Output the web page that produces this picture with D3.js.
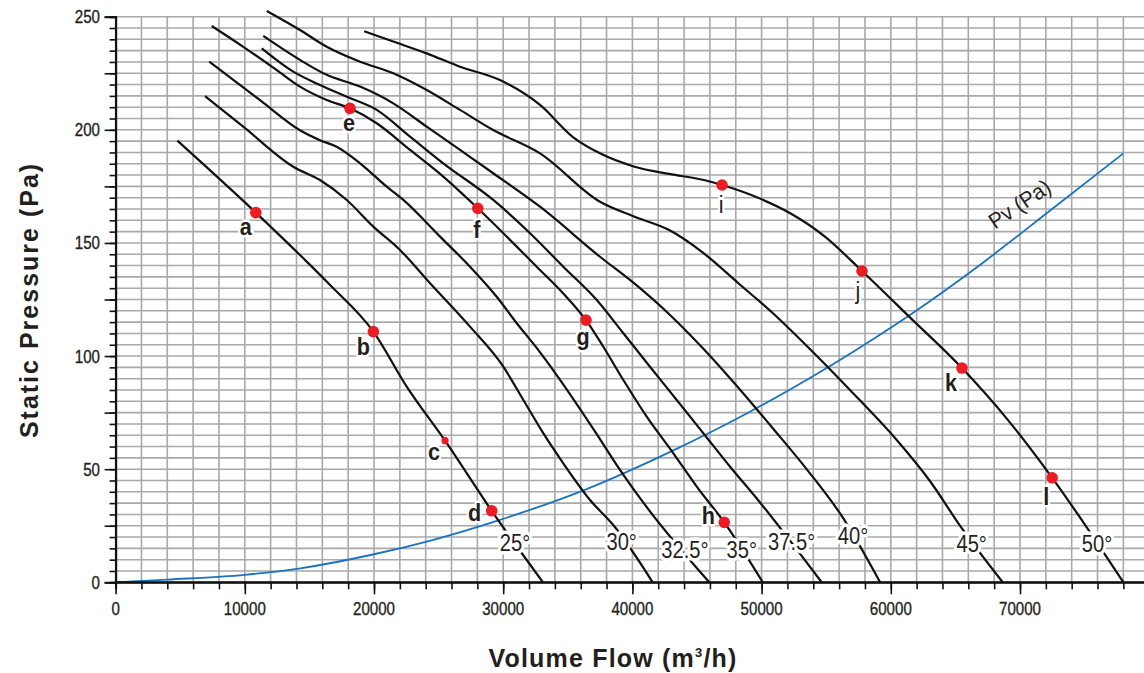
<!DOCTYPE html>
<html><head><meta charset="utf-8">
<script src="https://cdn.jsdelivr.net/npm/d3@7"></script>
<style>
html,body{margin:0;padding:0;background:#fff;}
svg{display:block;font-family:"Liberation Sans",Arial,Helvetica,sans-serif;}
</style></head><body>
<svg id="chart" width="1144" height="673"></svg>
<script>
// ---------------- DATA ----------------
const xTickLabels = [0,10000,20000,30000,40000,50000,60000,70000];
const yTickLabels = [0,50,100,150,200,250];
const curveNames = ["25°","30°","32.5°","35°","37.5°","40°","45°","50°"];

// [volume flow m3/h, static pressure Pa]
const curve25  = [[4780,195.2],[10850,163.4],[14530,143.2],[16600,131.4],[19950,110.8],[22530,86.5],[25500,62.6],[29110,31.6],[33080,0]];
const curve30  = [[6920,214.9],[9880,201.4],[13750,183.7],[15820,177.8],[17890,169],[19950,157.2],[22010,146.9],[24340,132.2],[27430,113],[30010,95.3],[31560,80.6],[33100,65.9],[34650,52.6],[36720,36.4],[38520,25.3],[41570,0]];
const curve325 = [[7250,230.1],[11180,213.1],[14270,199.8],[15820,195.4],[17110,192.5],[18920,185.2],[20980,174.9],[22270,169],[25110,152.8],[27430,139.5],[29500,126.2],[31050,114.5],[32590,103.6],[34140,91.6],[35690,78.8],[37240,65.5],[38790,51.8],[40980,34.2],[45950,0]];
const curve35  = [[7440,245.9],[9880,236.7],[12470,226.4],[14270,219.1],[16340,213.2],[18140,209.5],[20210,202.9],[22790,191.1],[25360,179.3],[28030,165.3],[30010,154.3],[32590,139.5],[34650,127.7],[36410,115.9],[37750,104.1],[39300,89.4],[41110,73.2],[43170,57],[44980,42.3],[47110,26.5],[50090,0]];
const curve375 = [[11310,236],[13750,225.7],[15820,219.8],[17890,214.6],[20210,208.8],[22790,197],[25360,185.2],[29230,169],[32080,154.3],[34650,139.5],[37240,124.8],[39300,110.1],[41360,95.3],[43430,80.6],[45490,65.9],[47560,51.1],[49720,36.4],[54650,0]];
const curve40  = [[11430,241.5],[14270,230.9],[16340,224.3],[18920,219.1],[21490,211.7],[24080,201.4],[26660,191.1],[29230,180.8],[32850,166],[37490,143.9],[40170,132],[42850,118.5],[45530,103],[48200,86],[50880,68],[53560,49.5],[56240,29],[59170,0]];
const curve45  = [[11700,252.5],[14270,244.1],[16340,236.7],[18920,230.1],[21490,225],[24080,217.6],[26660,208.8],[29230,199.9],[32850,189.6],[37490,168.2],[40170,161.6],[42850,155.7],[45530,145.4],[48200,132.2],[50880,118.9],[53560,104.1],[56840,85],[60460,62.9],[63000,45],[65490,23.9],[68660,0]];
const curve50  = [[19240,243.6],[21490,239],[24080,233.8],[26660,227.9],[29750,222],[32850,211],[35400,196.8],[37490,189.6],[40170,183.7],[42850,180.5],[45530,177.8],[46940,175.6],[49540,170.4],[52220,163.1],[54900,152.8],[57770,137.6],[61500,117],[65510,94.7],[69070,71.7],[72490,46.2],[78000,0]];

// curve label anchor (flow, pressure) where the angle text sits on each curve
const curveLabelFlow     = [30910,39170,44070,48460,52330,57075,66260,75960];
const curveLabelPressure = [17.4,17.9,14.3,14.3,17.9,20.8,17.2,17.2];

// dynamic pressure Pv curve
const pvCurve = [[0,0],[4000,1.2],[10000,3.3],[14300,6.2],[20000,12.4],[24600,18.8],[29750,27.6],[36460,41.2],[43170,58.3],[49100,75.4],[57310,102.7],[61590,118.6],[66950,140.5],[72310,164.2],[78000,189.6]];
const pvLabel = {text:"Pv (Pa)", flow:70300, pressure:167.5};

// operating points
const pointNames    = ["a","b","c","d","e","f","g","h","i","j","k","l"];
const pointFlow     = [10850,19950,25500,29110,18140,28030,36410,47110,46940,57770,65510,72490];
const pointPressure = [163.4,110.8,62.6,31.6,209.5,165.3,115.9,26.5,175.6,137.6,94.7,46.2];

// ---------------- STYLE ----------------
const labelOffset = { // pixel offsets of the letter (anchor middle, baseline) from the point
  a:[-10,22], b:[-10,23], c:[-11,19], d:[-17,10], e:[-1,23], f:[-1,30],
  g:[-3,25], h:[-16,2], i:[-1,28], j:[-4,28], k:[-11,23], l:[-6,27]
};
const smallPoints = {c:true};
const lightLabels = {i:true, j:true};

const svg = d3.select("#chart");
const plotRight = 1144;
const x = d3.scaleLinear().domain([0,80000]).range([115.6,1149.2]);
const y = d3.scaleLinear().domain([0,250]).range([582.3,16.7]);

function placeText(g, px, py, txt, o){
  const t = g.append("text")
    .attr("transform", `translate(${px},${py})${o.rotate?` rotate(${o.rotate})`:""} scale(${o.sx||1},1)`)
    .attr("text-anchor", o.anchor||"middle")
    .attr("font-size", o.size)
    .attr("font-weight", o.weight||"normal")
    .attr("fill", o.fill||"#231f20")
    .text(txt);
  if (o.halo){
    t.attr("stroke","#fff").attr("stroke-width",o.halo).attr("stroke-linejoin","round").attr("paint-order","stroke");
  } else if (o.thick){
    t.attr("stroke", o.fill||"#231f20").attr("stroke-width", o.thick);
  }
  if (o.spacing) t.attr("letter-spacing", o.spacing);
  return t;
}

// grid
const grid = svg.append("g");
grid.selectAll("line.v").data(d3.range(0,80001,2000).filter(v=>x(v)<=plotRight+0.5)).join("line")
  .attr("class","v").attr("x1",d=>x(d)).attr("x2",d=>x(d)).attr("y1",y(0)).attr("y2",y(250))
  .attr("stroke","#a9a9ab").attr("stroke-width",1.6);
grid.selectAll("line.h").data(d3.range(5,251,5)).join("line")
  .attr("class","h").attr("x1",x(0)).attr("x2",plotRight).attr("y1",d=>y(d)).attr("y2",d=>y(d))
  .attr("stroke","#a9a9ab").attr("stroke-width",1.6);

// Pv curve
const line = d3.line().x(d=>x(d[0])).y(d=>y(d[1])).curve(d3.curveMonotoneX);
svg.append("path").datum(pvCurve).attr("d",line).attr("fill","none")
  .attr("stroke","#1b73bf").attr("stroke-width",1.8);

// fan curves
const curves = [curve25,curve30,curve325,curve35,curve375,curve40,curve45,curve50];
svg.append("g").selectAll("path").data(curves).join("path")
  .attr("d",line).attr("fill","none").attr("stroke","#111").attr("stroke-width",2.2);

// axes
const xMinor = d3.axisBottom(x).tickValues(d3.range(0,78001,2000)).tickSize(7).tickFormat("");
const xMajor = d3.axisBottom(x).tickValues(xTickLabels).tickSize(12).tickFormat("");
const yMinor = d3.axisLeft(y).tickValues(d3.range(0,251,5)).tickSize(6).tickFormat("");
const yMajor = d3.axisLeft(y).tickValues(d3.range(0,251,25)).tickSize(11).tickFormat("");
function styleAxis(g){
  g.selectAll("path.domain").attr("stroke","#111").attr("stroke-width",2);
  g.selectAll(".tick line").attr("stroke","#111").attr("stroke-width",1.6);
}
svg.append("g").attr("transform",`translate(0,${y(0)})`).call(xMinor).call(styleAxis);
svg.append("g").attr("transform",`translate(0,${y(0)})`).call(xMajor).call(styleAxis)
  .select("path.domain").attr("d",`M${x(0)},0H${plotRight}`);
svg.append("g").attr("transform",`translate(${x(0)},0)`).call(yMinor).call(styleAxis);
svg.append("g").attr("transform",`translate(${x(0)},0)`).call(yMajor).call(styleAxis);

const tl = svg.append("g");
xTickLabels.forEach(v=>placeText(tl, x(v), 614.5, String(v), {size:18, sx:0.84, thick:0.35}));
yTickLabels.forEach(v=>placeText(tl, 100, y(v)+6.5, String(v), {size:18, sx:0.84, anchor:"end", thick:0.35}));

// curve angle labels
const cl = svg.append("g");
curveNames.forEach((n,i)=>placeText(cl, x(curveLabelFlow[i]), y(curveLabelPressure[i])+8.5, n,
  {size:24, sx:0.84, halo:7}));

// Pv label
placeText(svg.append("g"), x(pvLabel.flow), y(pvLabel.pressure)+7, pvLabel.text,
  {size:22, sx:0.95, rotate:-34});

// points
const pts = pointNames.map((n,i)=>({n, fx:pointFlow[i], fy:pointPressure[i]}));
svg.append("g").selectAll("circle").data(pts).join("circle")
  .attr("cx",d=>x(d.fx)).attr("cy",d=>y(d.fy)).attr("r",d=>smallPoints[d.n]?3.6:5.8)
  .attr("fill","#ec1c24");
const pl = svg.append("g");
pts.forEach(d=>{
  const o = labelOffset[d.n];
  placeText(pl, x(d.fx)+o[0], y(d.fy)+o[1], d.n,
    {size:24, sx:0.9, weight: lightLabels[d.n]?"normal":"bold", halo:5});
});

// axis titles
const xt = svg.append("text").attr("x",613).attr("y",667).attr("text-anchor","middle")
  .attr("font-size",25).attr("font-weight","bold").attr("letter-spacing",1.2).attr("fill","#231f20");
xt.append("tspan").text("Volume Flow (m");
xt.append("tspan").attr("font-size",13).attr("dy",-10).text("3");
xt.append("tspan").attr("dy",10).text("/h)");

svg.append("text").attr("transform","translate(38,300) rotate(-90)").attr("text-anchor","middle")
  .attr("font-size",25).attr("font-weight","bold").attr("letter-spacing",2).attr("fill","#231f20")
  .text("Static Pressure (Pa)");
</script>
</body></html>
